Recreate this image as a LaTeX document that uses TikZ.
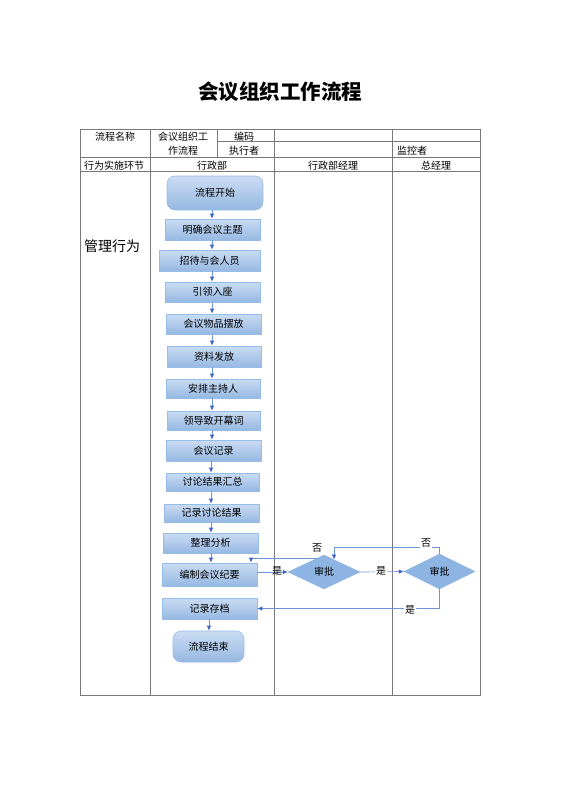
\documentclass[tikz,border=0pt]{standalone}
\usepackage{fontspec}
\setmainfont{Noto Sans CJK SC}
\usetikzlibrary{shapes.geometric,arrows.meta,calc}
\definecolor{gridc}{RGB}{120,120,120}
\definecolor{boxtop}{RGB}{202,220,243}
\definecolor{boxbot}{RGB}{150,184,226}
\definecolor{boxline}{RGB}{150,188,232}
\definecolor{diafill}{RGB}{142,180,227}
\definecolor{linkc}{RGB}{110,148,215}
\definecolor{tipc}{RGB}{60,100,200}
\tikzset{
  gridline/.style={draw=gridc, line width=0.8pt},
  celltext/.style={font=\fontsize{10}{12}\selectfont, inner sep=0pt},
  stepbox/.style={draw=boxline, line width=0.6pt, top color=boxtop, bottom color=boxbot,
    inner sep=0pt, font=\fontsize{10}{12}\selectfont},
  endbox/.style={stepbox, rounded corners=8pt},
  decision/.style={diamond, draw=diafill, fill=diafill, inner sep=0pt,
    font=\fontsize{10}{12}\selectfont},
  arr/.style={draw=linkc, line width=0.7pt, -{Latex[length=5pt,width=4.5pt,color=tipc]}},
  lbl/.style={font=\fontsize{10}{12}\selectfont, inner sep=0.6pt, fill=white},
  lblclear/.style={font=\fontsize{10}{12}\selectfont, inner sep=0.6pt},
}
\begin{document}
\begin{tikzpicture}[x=1pt,y=-1pt]
\useasboundingbox (0,0) rectangle (560,792);
% title
\node[font=\fontsize{20.5}{24}\selectfont\bfseries] (title) at (280,92) {会议组织工作流程};
% table grid
\draw[gridline] (80,129) rectangle (480,695);
\draw[gridline] (80,157) -- (480,157);
\draw[gridline] (80,171) -- (480,171);
\draw[gridline] (217,141) -- (480,141);
\draw[gridline] (150,129) -- (150,695);
\draw[gridline] (217,129) -- (217,157);
\draw[gridline] (274,129) -- (274,695);
\draw[gridline] (392,129) -- (392,695);
% table texts
\node[celltext] (t1) at (115,137) {流程名称};
\node[celltext] (t2) at (183,137) {会议组织工};
\node[celltext] (t3) at (183,151) {作流程};
\node[celltext] (t4) at (244,137) {编码};
\node[celltext] (t5) at (244,151) {执行者};
\node[celltext] (t6) at (412,151) {监控者};
\node[celltext] (h1) at (114,166) {行为实施环节};
\node[celltext] (h2) at (212,166) {行政部};
\node[celltext] (h3) at (333,166) {行政部经理};
\node[celltext] (h4) at (436,166) {总经理};
\node[font=\fontsize{14}{16}\selectfont, inner sep=0pt] (role) at (112,246) {管理行为};
% flow boxes
\node[endbox, minimum width=96pt, minimum height=34pt] (b1) at (215,193) {流程开始};
\node[stepbox, minimum width=95pt, minimum height=21pt] (b2) at (212.5,229.5) {明确会议主题};
\node[stepbox, minimum width=101pt, minimum height=21pt] (b3) at (209.5,260.5) {招待与会人员};
\node[stepbox, minimum width=95pt, minimum height=20pt] (b4) at (212.5,292) {引领入座};
\node[stepbox, minimum width=95pt, minimum height=20pt] (b5) at (213.5,324) {会议物品摆放};
\node[stepbox, minimum width=94pt, minimum height=21pt] (b6) at (214,356.5) {资料发放};
\node[stepbox, minimum width=94pt, minimum height=19pt] (b7) at (213,388.5) {安排主持人};
\node[stepbox, minimum width=93pt, minimum height=19pt] (b8) at (213.5,420.5) {领导致开幕词};
\node[stepbox, minimum width=95pt, minimum height=21pt] (b9) at (213.5,450.5) {会议记录};
\node[stepbox, minimum width=93pt, minimum height=18pt] (b10) at (212.5,482) {讨论结果汇总};
\node[stepbox, minimum width=95pt, minimum height=18pt] (b11) at (211.5,513) {记录讨论结果};
\node[stepbox, minimum width=95pt, minimum height=20pt] (b12) at (210.5,543) {整理分析};
\node[stepbox, minimum width=95pt, minimum height=23pt] (b13) at (209.5,574.5) {编制会议纪要};
\node[stepbox, minimum width=95pt, minimum height=21pt] (b14) at (209.5,608.5) {记录存档};
\node[endbox, minimum width=71pt, minimum height=31pt] (b15) at (208.5,646.5) {流程结束};
% decisions
\node[decision, minimum width=72pt, minimum height=34pt] (d1) at (324,572) {审批};
\node[decision, minimum width=71pt, minimum height=35pt] (d2) at (439.5,571.5) {审批};
% arrow columns
\coordinate (ax1) at (212,0);
\coordinate (ax2) at (211,0);
\coordinate (ax3) at (209,0);
\coordinate (lx) at (251,0);
\draw[arr] (b1.south -| ax1) -- (b2.north -| ax1);
\draw[arr] (b2.south -| ax1) -- (b3.north -| ax1);
\draw[arr] (b3.south -| ax1) -- (b4.north -| ax1);
\draw[arr] (b4.south -| ax1) -- (b5.north -| ax1);
\draw[arr] (b5.south -| ax1) -- (b6.north -| ax1);
\draw[arr] (b6.south -| ax1) -- (b7.north -| ax1);
\draw[arr] (b7.south -| ax1) -- (b8.north -| ax1);
\draw[arr] (b8.south -| ax1) -- (b9.north -| ax1);
\draw[arr] (b9.south -| ax2) -- (b10.north -| ax2);
\draw[arr] (b10.south -| ax2) -- (b11.north -| ax2);
\draw[arr] (b11.south -| ax2) -- (b12.north -| ax2);
\draw[arr] (b12.south -| ax2) -- (b13.north -| ax2);
\draw[arr] (b14.south -| ax3) -- (b15.north -| ax3);
% decision links
\draw[arr] (d1.west -| b13.east) -- (d1.west);
\node[lblclear] (y1) at (277,571) {是};
\draw[arr] (d1.east) -- (d2.west);
\node[lbl] (y2) at (381,571) {是};
\draw[arr] (d1.115) -| (b13.north -| lx);
\node[lbl] (n1) at (317,548) {否};
\draw[arr] (d2.north) -- ++(0,-6) -| (d1.51);
\node[lbl] (n2) at (426,543) {否};
\draw[arr] (d2.south) |- (b14.east);
\node[lbl] (y3) at (410,610) {是};
\end{tikzpicture}
\end{document}
